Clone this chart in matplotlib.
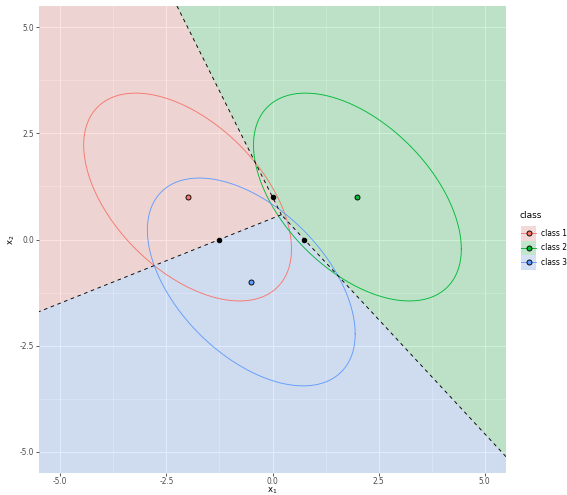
import numpy as np
import matplotlib
matplotlib.use("Agg")
import matplotlib.pyplot as plt
from matplotlib.patches import Polygon, Rectangle
from matplotlib.lines import Line2D
from matplotlib.legend_handler import HandlerBase

# Class means and shared covariance (LDA setup)
class_names = ["class 1", "class 2", "class 3"]
means_x = [-2.0, 2.0, -0.5]
means_y = [1.0, 1.0, -1.0]
cov = [[1.0, -0.5], [-0.5, 1.0]]
ellipse_level = 0.95
class_colors = ["#F8766D", "#00BA38", "#619CFF"]

x_ticks = [-5.0, -2.5, 0.0, 2.5, 5.0]
y_ticks = [-5.0, -2.5, 0.0, 2.5, 5.0]
xlim = (-5.5, 5.5)
ylim = (-5.5, 5.5)

mu = np.column_stack([means_x, means_y])
S = np.array(cov)
Sinv = np.linalg.inv(S)
K = len(mu)

# linear discriminant: delta_k(x) = w_k . x + b_k
W = mu @ Sinv
B = -0.5 * np.einsum("ij,jk,ik->i", mu, Sinv, mu)


def clip_poly(poly, a, c):
    """Keep the part of poly where a.x + c >= 0 (Sutherland-Hodgman)."""
    out = []
    n = len(poly)
    for i in range(n):
        p, q = poly[i], poly[(i + 1) % n]
        fp, fq = a @ p + c, a @ q + c
        if fp >= 0:
            out.append(p)
        if (fp >= 0) != (fq >= 0):
            t = fp / (fp - fq)
            out.append(p + t * (q - p))
    return out


class KeyHandler(HandlerBase):
    """Legend key: grey key background, translucent fill, a path line and a point."""

    def create_artists(self, legend, orig_handle, xdescent, ydescent, width, height,
                       fontsize, trans):
        color = orig_handle
        base = Rectangle((-xdescent, -ydescent), width, height, facecolor="#F2F2F2",
                         edgecolor="none", transform=trans)
        rect = Rectangle((-xdescent, -ydescent), width, height, facecolor=color,
                         alpha=0.2, edgecolor="none", transform=trans)
        yc = -ydescent + height / 2
        line = Line2D([-xdescent, -xdescent + width], [yc, yc], color=color, lw=0.9,
                      transform=trans)
        pt = Line2D([-xdescent + width / 2], [yc], marker="o", ms=5, mfc=color,
                    mec="black", mew=0.9, lw=0, transform=trans)
        return [base, rect, line, pt]


box = [np.array(v, float) for v in
       [(xlim[0], ylim[0]), (xlim[1], ylim[0]), (xlim[1], ylim[1]), (xlim[0], ylim[1])]]

fig = plt.figure(figsize=(567 / 72, 495 / 72), dpi=72)
ax = fig.add_axes([39 / 567, 1 - 473 / 495, (506 - 39) / 567, (473 - 6) / 495])
ax.set_facecolor("#EBEBEB")

# grid
for v in x_ticks:
    ax.axvline(v, color="white", lw=1.0, zorder=0.5)
for v in y_ticks:
    ax.axhline(v, color="white", lw=1.0, zorder=0.5)
for i in range(len(x_ticks) - 1):
    ax.axvline((x_ticks[i] + x_ticks[i + 1]) / 2, color="white", lw=0.5, zorder=0.5)
for i in range(len(y_ticks) - 1):
    ax.axhline((y_ticks[i] + y_ticks[i + 1]) / 2, color="white", lw=0.5, zorder=0.5)

# decision regions
for k in range(K):
    poly = box
    for j in range(K):
        if j == k:
            continue
        poly = clip_poly(poly, W[k] - W[j], B[k] - B[j])
    if len(poly) >= 3:
        ax.add_patch(Polygon(np.array(poly), closed=True, facecolor=class_colors[k],
                             alpha=0.2, edgecolor="none", zorder=1))

# decision boundaries (segments where two classes tie and beat the rest)
for i in range(K):
    for j in range(i + 1, K):
        a = W[i] - W[j]
        c = B[i] - B[j]
        mid = (mu[i] + mu[j]) / 2
        d = np.array([-a[1], a[0]])
        d = d / np.linalg.norm(d)
        lo, hi = -1e3, 1e3
        for dim, (mn, mx) in enumerate([xlim, ylim]):
            if abs(d[dim]) > 1e-12:
                t1, t2 = (mn - mid[dim]) / d[dim], (mx - mid[dim]) / d[dim]
                lo, hi = max(lo, min(t1, t2)), min(hi, max(t1, t2))
        for k in range(K):
            if k in (i, j):
                continue
            g = W[i] - W[k]
            h = B[i] - B[k]
            s0 = g @ mid + h
            s1 = g @ d
            if abs(s1) < 1e-12:
                if s0 < 0:
                    lo, hi = 1, 0
                continue
            t = -s0 / s1
            if s1 > 0:
                lo = max(lo, t)
            else:
                hi = min(hi, t)
        if hi > lo:
            p0, p1 = mid + lo * d, mid + hi * d
            ax.plot([p0[0], p1[0]], [p0[1], p1[1]], color="black", lw=0.9,
                    dashes=(4, 4), zorder=3)

# confidence ellipses
r = np.sqrt(-2 * np.log(1 - ellipse_level))
L = np.linalg.cholesky(S)
t = np.linspace(0, 2 * np.pi, 400)
circ = np.vstack([np.cos(t), np.sin(t)])
for k in range(K):
    e = mu[k][:, None] + r * (L @ circ)
    ax.plot(e[0], e[1], color=class_colors[k], lw=0.9, zorder=2)

# pairwise midpoints
for i in range(K):
    for j in range(i + 1, K):
        m = (mu[i] + mu[j]) / 2
        ax.plot(m[0], m[1], "o", color="black", ms=4.5, zorder=4)

# class means
for k in range(K):
    ax.plot(mu[k, 0], mu[k, 1], "o", mfc=class_colors[k], mec="black", mew=0.9,
            ms=5, zorder=5)

ax.set_xlim(*xlim)
ax.set_ylim(*ylim)
ax.set_xticks(x_ticks)
ax.set_yticks(y_ticks)
ax.set_xticklabels([f"{v:.1f}" for v in x_ticks])
ax.set_yticklabels([f"{v:.1f}" for v in y_ticks])
ax.tick_params(colors="#333333", labelcolor="#4D4D4D", labelsize=7.5, length=3,
               width=0.8, pad=1.5)
for s in ax.spines.values():
    s.set_visible(False)
ax.set_xlabel("x$_1$", fontsize=8.5)
ax.xaxis.set_label_coords(0.5, -0.027)
ax.set_ylabel("x$_2$", fontsize=8.5, labelpad=3)

# legend: title as text, keys below it
fig.text(520 / 567, 1 - 215 / 495, "class", fontsize=9, ha="left", va="center")
leg = fig.legend(class_colors, class_names,
                 handler_map={str: KeyHandler()},
                 loc="upper left", bbox_to_anchor=(521 / 567, 1 - 226 / 495),
                 frameon=False, fontsize=7.5,
                 handlelength=2.0, handleheight=2.6, labelspacing=0.0,
                 handletextpad=0.7, borderaxespad=0, borderpad=0)

fig.savefig("out.png", dpi=72)
